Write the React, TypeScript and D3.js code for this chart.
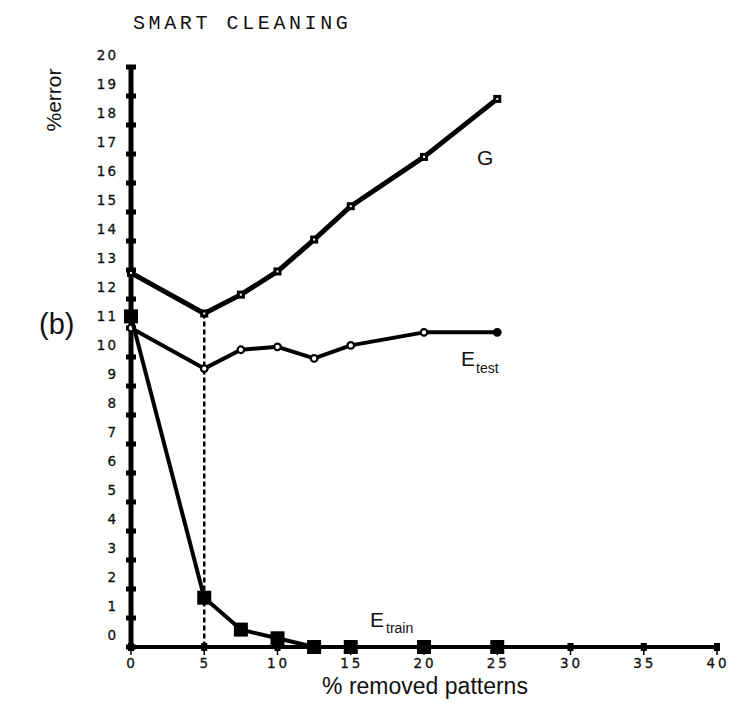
import React from "react";
import * as d3 from "d3";

const width = 734;
const height = 706;

// % removed patterns
const removed = [0, 5, 7.5, 10, 12.5, 15, 20, 25];
// % error per series
const gValues = [12.9, 11.5, 12.15, 12.95, 14.05, 15.2, 16.9, 18.9];
const eTestValues = [11.0, 9.6, 10.25, 10.35, 9.95, 10.4, 10.85, 10.85];
const eTrainValues = [11.4, 1.7, 0.6, 0.3, 0, 0, 0, 0];

const xTicks = [0, 5, 10, 15, 20, 25, 30, 35, 40];
const yTicks = d3.range(0, 21);

const x = d3.scaleLinear().domain([0, 40]).range([131, 717]);
const y = d3.scaleLinear().domain([0, 20]).range([647, 67]);

const line = d3
  .line<number>()
  .x((d, i) => x(removed[i]))
  .y(d => y(d));

const tickFont = "'DejaVu Sans', Verdana, sans-serif";
const sans = "'Liberation Sans', Arial, sans-serif";

export default function App() {
  return (
    <svg
      width={width}
      height={height}
      style={{ position: "absolute", left: 0, top: 0, background: "#fff" }}
    >
      <text
        x={133}
        y={29}
        fontFamily="'Liberation Mono', monospace"
        fontSize={20}
        letterSpacing={3.6}
        fill="#111"
      >
        SMART CLEANING
      </text>

      <text
        transform={`translate(61,100) rotate(-90)`}
        textAnchor="middle"
        fontFamily={sans}
        fontSize={21}
        fill="#111"
      >
        %error
      </text>
      <text x={39} y={334} fontFamily={sans} fontSize={29} fill="#111">
        (b)
      </text>

      {/* y tick labels sit a little above their ticks */}
      {yTicks.map(t => (
        <text
          key={"yl" + t}
          x={118}
          y={y(t) - 12}
          dy="0.35em"
          textAnchor="end"
          fontFamily={tickFont}
          fontSize={13.5}
          letterSpacing={2}
          fill="#111"
          stroke="#111"
          strokeWidth={0.3}
        >
          {t}
        </text>
      ))}
      {xTicks.map(t => (
        <text
          key={"xl" + t}
          x={x(t) + 1}
          y={y(0) + 16}
          dy="0.35em"
          textAnchor="middle"
          fontFamily={tickFont}
          fontSize={13.5}
          letterSpacing={3}
          fill="#111"
          stroke="#111"
          strokeWidth={0.3}
        >
          {t}
        </text>
      ))}

      {/* axes */}
      <line x1={x(0)} x2={x(40)} y1={y(0)} y2={y(0)} stroke="#000" strokeWidth={4} />
      <line x1={x(0)} x2={x(0)} y1={y(0) + 2} y2={y(20)} stroke="#000" strokeWidth={5} />
      {yTicks.map(t => (
        <rect key={"yt" + t} x={x(0) - 5} y={y(t) - 2.5} width={10} height={5} fill="#000" />
      ))}
      {xTicks.map(t => (
        <g key={"xt" + t}>
          <rect x={x(t) - 3} y={y(0) - 4} width={6} height={8} fill="#000" />
          <line x1={x(t)} x2={x(t)} y1={y(0)} y2={y(0) + 8} stroke="#000" strokeWidth={1.5} />
        </g>
      ))}

      {/* dashed guide at 5 % */}
      <line
        x1={x(5)}
        x2={x(5)}
        y1={y(gValues[1])}
        y2={y(0)}
        stroke="#000"
        strokeWidth={2.5}
        strokeDasharray="5,3"
      />

      {/* G */}
      <path d={line(gValues) || ""} fill="none" stroke="#000" strokeWidth={5} strokeLinejoin="round" />
      {gValues.map((v, i) => (
        <g key={"g" + i}>
          <rect x={x(removed[i]) - 4} y={y(v) - 4} width={8} height={8} fill="#000" />
          <rect x={x(removed[i]) - 1} y={y(v) - 1} width={2} height={2} fill="#fff" />
        </g>
      ))}

      {/* E test */}
      <path d={line(eTestValues) || ""} fill="none" stroke="#000" strokeWidth={4} strokeLinejoin="round" />
      {eTestValues.map((v, i) => (
        <circle
          key={"t" + i}
          cx={x(removed[i])}
          cy={y(v)}
          r={3.3}
          fill={i === eTestValues.length - 1 ? "#000" : "#fff"}
          stroke="#000"
          strokeWidth={2.2}
        />
      ))}

      {/* E train */}
      <path d={line(eTrainValues) || ""} fill="none" stroke="#000" strokeWidth={4} strokeLinejoin="round" />
      {eTrainValues.map((v, i) => (
        <rect
          key={"r" + i}
          x={x(removed[i]) - 7}
          y={y(v) - 7}
          width={14}
          height={14}
          fill="#000"
        />
      ))}

      <text x={477} y={165} fontFamily={sans} fontSize={21} fill="#111">
        G
      </text>
      <text x={461} y={366} fontFamily={sans} fontSize={21} fill="#111">
        E
        <tspan dx={1} dy={7} fontSize={14}>
          test
        </tspan>
      </text>
      <text x={370} y={627} fontFamily={sans} fontSize={21} fill="#111">
        E
        <tspan dx={2} dy={6} fontSize={14}>
          train
        </tspan>
      </text>

      <text
        x={425}
        y={694}
        textAnchor="middle"
        fontFamily={sans}
        fontSize={23}
        fill="#111"
      >
        % removed patterns
      </text>
    </svg>
  );
}
